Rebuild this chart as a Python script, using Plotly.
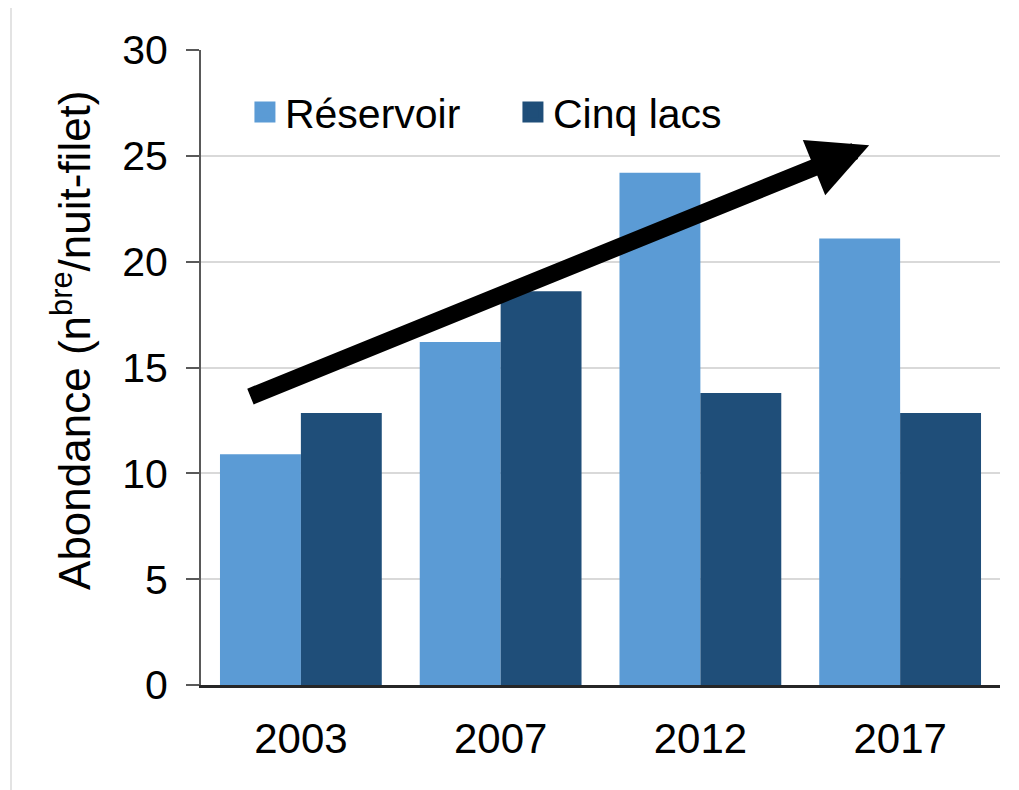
import plotly.graph_objects as go

years = ["2003", "2007", "2012", "2017"]
reservoir = [10.9, 16.2, 24.2, 21.1]
cinq_lacs = [12.85, 18.6, 13.8, 12.85]
series_names = ["Réservoir", "Cinq lacs"]
colors = ["#5b9bd5", "#1f4e79"]
y_ticks = [0, 5, 10, 15, 20, 25, 30]
y_title = "Abondance (n<sup>bre</sup>/nuit-filet)"

# trend arrow (data units: category index, abundance)
arrow_tail = (-0.26, 13.6)
arrow_head = (2.845, 25.5)

FONT = "Liberation Sans, Arial, sans-serif"

fig = go.Figure()
for name, vals, col in zip(series_names, [reservoir, cinq_lacs], colors):
    fig.add_trace(go.Bar(x=years, y=vals, name=name, marker=dict(color=col, line=dict(width=0)),
                         showlegend=False))
    # legend proxy with larger square symbol
    fig.add_trace(go.Scatter(x=[None], y=[None], mode="markers", name=name,
                             marker=dict(symbol="square", size=16, color=col,
                                         line=dict(color=col, width=5))))

# page body has an 8px margin, so the figure is sized/offset to compensate
fig.update_layout(
    width=1011, height=782,
    margin=dict(l=193, r=19, t=42, b=105),
    paper_bgcolor="white", plot_bgcolor="white",
    barmode="group", bargap=0.19, bargroupgap=0,
    font=dict(family=FONT, color="black"),
    legend=dict(orientation="h", x=0.055, y=0.902, xanchor="left", yanchor="middle",
                font=dict(size=41, family=FONT), bgcolor="rgba(0,0,0,0)",
                entrywidth=223, entrywidthmode="pixels", itemwidth=30),
    xaxis=dict(type="category", showgrid=False, showline=True, linecolor="#262626", linewidth=3,
               ticks="", tickfont=dict(size=42), ticklabelstandoff=15),
    yaxis=dict(range=[0, 30], tickvals=y_ticks, showgrid=True, gridcolor="#d9d9d9", gridwidth=2,
               showline=True, linecolor="#595959", linewidth=2, ticks="outside", ticklen=13,
               tickcolor="#595959", tickwidth=2, tickfont=dict(size=41), ticklabelstandoff=10,
               zeroline=False),
    annotations=[
        dict(text=y_title, xref="paper", yref="paper", x=-0.163, y=0.543, textangle=-90,
             showarrow=False, font=dict(size=44, family=FONT), xanchor="center", yanchor="middle"),
        dict(text="", x=arrow_head[0], y=arrow_head[1], ax=arrow_tail[0], ay=arrow_tail[1],
             xref="x", yref="y", axref="x", ayref="y", showarrow=True, arrowhead=2,
             arrowwidth=17, arrowsize=0.7, arrowcolor="black", standoff=0),
    ],
    shapes=[
        dict(type="line", xref="paper", yref="paper", x0=-0.2378, x1=1.03, y0=1.0693, y1=1.0693,
             line=dict(color="#e3e3e3", width=2)),
        dict(type="line", xref="paper", yref="paper", x0=-0.2378, x1=-0.2378, y0=-0.2, y1=1.0693,
             line=dict(color="#e3e3e3", width=2)),
    ],
)

fig.write_html("out.html")
